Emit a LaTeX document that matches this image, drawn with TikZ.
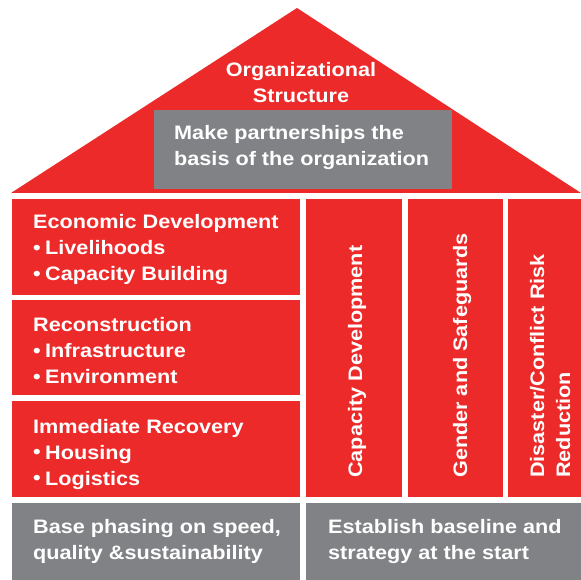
\documentclass[tikz,border=0pt]{standalone}
\usepackage{fontspec}
\setmainfont{Liberation Sans}[FakeStretch=1.11]
\definecolor{hred}{RGB}{237,42,42}
\definecolor{hgray}{RGB}{128,130,134}
\tikzset{
  panel/.style={fill=#1, draw=none, inner sep=0pt, outer sep=0pt, anchor=north west},
  lbl/.style={text=white, font=\bfseries\fontsize{19.5}{26}\selectfont, inner sep=0pt, anchor=base west},
  vlbl/.style={lbl, rotate=90},
}
\newcommand{\blt}{\makebox[12pt][l]{\raisebox{0.5pt}{•}}}
\begin{document}
\begin{tikzpicture}[x=1pt,y=-1pt]
\useasboundingbox (0,0) rectangle (581,580);
% roof
\fill[hred] (11,193) -- (297,8) -- (581,193) -- cycle;
\node[panel=hgray, minimum width=298pt, minimum height=79pt] (roofbox) at (154,110) {};
\node[lbl, anchor=base] (rooft) at (301,77) {\parbox[t]{220pt}{\centering Organizational\\Structure}};
\node[lbl] (rooftxt) at (174,139.5) {\parbox[t]{280pt}{\raggedright Make partnerships the\\basis of the organization}};
% left boxes
\node[panel=hred, minimum width=288pt, minimum height=96pt] (eco) at (12,199) {};
\node[panel=hred, minimum width=288pt, minimum height=95pt] (rec) at (12,300) {};
\node[panel=hred, minimum width=288pt, minimum height=96pt] (imm) at (12,401) {};
\node[lbl] (ecot) at (33,229) {\parbox[t]{265pt}{\raggedright Economic Development\\\blt Livelihoods\\\blt Capacity Building}};
\node[lbl] (rect) at (33,331.5) {\parbox[t]{265pt}{\raggedright Reconstruction\\\blt Infrastructure\\\blt Environment}};
\node[lbl] (immt) at (33,433) {\parbox[t]{265pt}{\raggedright Immediate Recovery\\\blt Housing\\\blt Logistics}};
% columns
\node[panel=hred, minimum width=96pt, minimum height=298pt] (col1) at (306,199) {};
\node[panel=hred, minimum width=95pt, minimum height=298pt] (col2) at (408,199) {};
\node[panel=hred, minimum width=73pt, minimum height=298pt] (col3) at (508,199) {};
\node[vlbl] (col1t) at (362,478) {Capacity Development};
\node[vlbl] (col2t) at (467,478) {Gender and Safeguards};
\node[vlbl] (col3t) at (544,478) {\parbox[t]{260pt}{\raggedright Disaster/Conflict Risk\\Reduction}};
% foundation
\node[panel=hgray, minimum width=288pt, minimum height=77pt] (base1) at (12,503) {};
\node[panel=hgray, minimum width=275pt, minimum height=77pt] (base2) at (306,503) {};
\node[lbl] (base1t) at (33,533) {\parbox[t]{265pt}{\raggedright Base phasing on speed,\\quality \&sustainability}};
\node[lbl] (base2t) at (328,533) {\parbox[t]{250pt}{\raggedright Establish baseline and\\strategy at the start}};
\end{tikzpicture}
\end{document}
